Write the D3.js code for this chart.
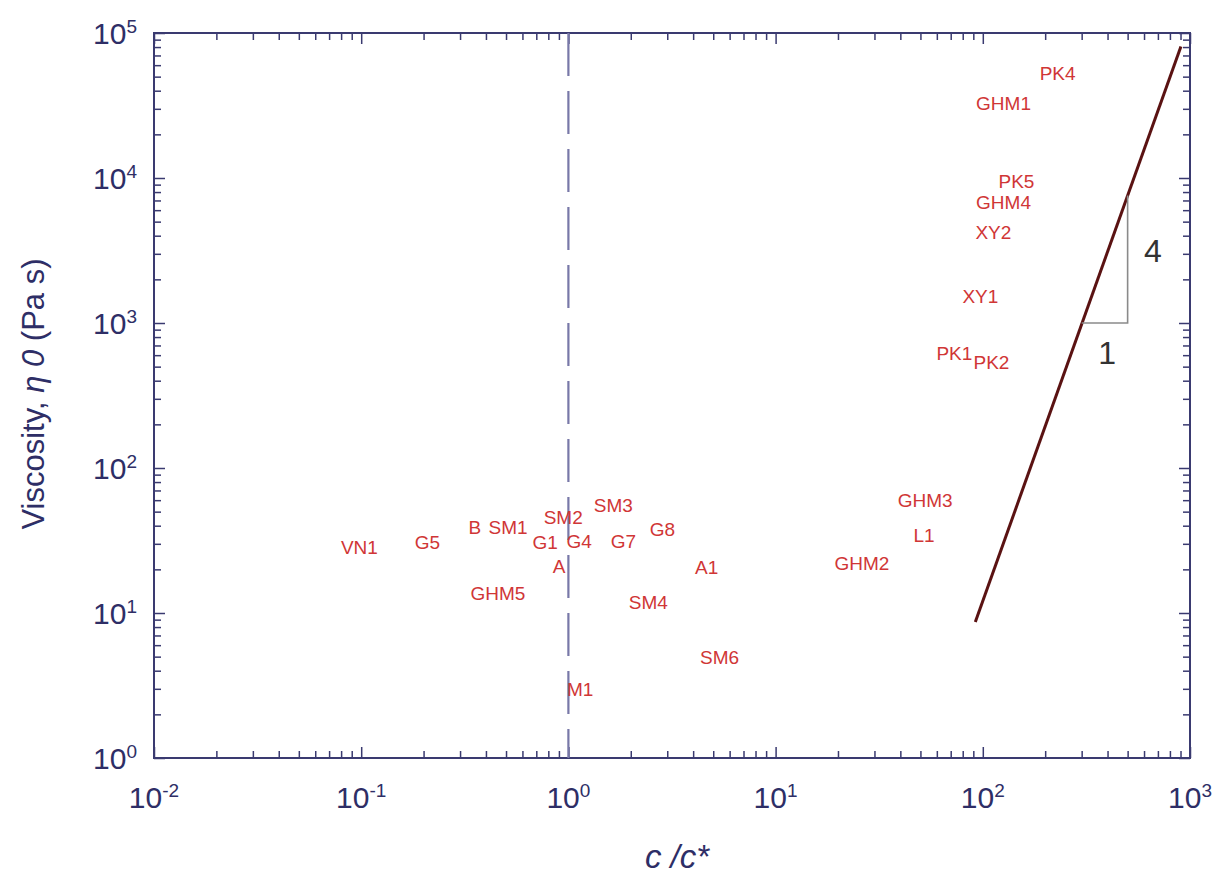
<!DOCTYPE html>
<html>
<head>
<meta charset="utf-8">
<script src="https://cdn.jsdelivr.net/npm/d3@7/dist/d3.min.js"></script>
<style>
  html, body { margin: 0; padding: 0; background: #ffffff; }
  svg { display: block; }
</style>
</head>
<body>
<script>
// ---------- data ----------
const sampleLabels = ["PK4","GHM1","PK5","GHM4","XY2","XY1","PK1","PK2","GHM3","L1","GHM2",
  "VN1","G5","B","SM1","SM2","SM3","G1","G4","G7","G8","A","A1","GHM5","SM4","SM6","M1"];
const concRatio = [229.6,125.9,145.4,125.9,112.5,97.3,72.9,110.1,52.7,52.1,26.1,
  0.098,0.209,0.354,0.512,0.944,1.648,0.773,1.127,1.841,2.844,0.902,4.645,0.457,2.432,5.37,1.14];
const viscosity = [52970,32890,9530,6830,4245,1536,621,538,60.2,34.5,22.1,
  28.5,30.9,39.2,39.2,45.9,55.6,30.9,31.4,31.4,38.0,21.1,20.8,13.7,11.9,4.97,2.99];

const slopeLineC = [92, 904];
const slopeLineEta = [8.67, 80800];
const triangleC = [300, 500, 500];
const triangleEta = [1000, 1000, 7560];
const slopeLabels = ["4", "1"];
const slopeLabelC = [662, 398];
const slopeLabelEta = [3186, 631];

const xTickExps = [-2, -1, 0, 1, 2, 3];
const yTickExps = [0, 1, 2, 3, 4, 5];
const criticalC = 1;

// ---------- layout ----------
const W = 1222, H = 875;
const L = 154, R = 1190, T = 33, B = 758;
const axisColor = "#3a3a70";
const textColor = "#2e2e66";
const labelColor = "#d03636";

const svg = d3.select("body").append("svg").attr("width", W).attr("height", H);

const x = d3.scaleLog().domain([1e-2, 1e3]).range([L, R]);
const y = d3.scaleLog().domain([1, 1e5]).range([B, T]);

// minor tick values
const minorX = [];
for (let e = -2; e < 3; e++) for (let m = 2; m <= 9; m++) minorX.push(m * Math.pow(10, e));
const minorY = [];
for (let e = 0; e < 5; e++) for (let m = 2; m <= 9; m++) minorY.push(m * Math.pow(10, e));
const majorX = xTickExps.map(e => Math.pow(10, e));
const majorY = yTickExps.map(e => Math.pow(10, e));

function styleAxis(g) {
  g.select(".domain").remove();
  g.selectAll(".tick line").attr("stroke", axisColor).attr("stroke-width", 1.5);
  g.selectAll(".tick text").remove();
}

// bottom / top axes (inward ticks)
svg.append("g").attr("transform", `translate(0,${B})`)
  .call(d3.axisBottom(x).tickValues(majorX).tickSize(-11).tickFormat("")).call(styleAxis);
svg.append("g").attr("transform", `translate(0,${B})`)
  .call(d3.axisBottom(x).tickValues(minorX).tickSize(-7).tickFormat("")).call(styleAxis);
svg.append("g").attr("transform", `translate(0,${T})`)
  .call(d3.axisTop(x).tickValues(majorX).tickSize(-11).tickFormat("")).call(styleAxis);
svg.append("g").attr("transform", `translate(0,${T})`)
  .call(d3.axisTop(x).tickValues(minorX).tickSize(-7).tickFormat("")).call(styleAxis);
// left / right axes
svg.append("g").attr("transform", `translate(${L},0)`)
  .call(d3.axisLeft(y).tickValues(majorY).tickSize(-11).tickFormat("")).call(styleAxis);
svg.append("g").attr("transform", `translate(${L},0)`)
  .call(d3.axisLeft(y).tickValues(minorY).tickSize(-7).tickFormat("")).call(styleAxis);
svg.append("g").attr("transform", `translate(${R},0)`)
  .call(d3.axisRight(y).tickValues(majorY).tickSize(-11).tickFormat("")).call(styleAxis);
svg.append("g").attr("transform", `translate(${R},0)`)
  .call(d3.axisRight(y).tickValues(minorY).tickSize(-7).tickFormat("")).call(styleAxis);

// frame
svg.append("rect").attr("x", L).attr("y", T).attr("width", R - L).attr("height", B - T)
  .attr("fill", "none").attr("stroke", axisColor).attr("stroke-width", 2);

// tick labels with superscripts
const fontFam = "Liberation Sans, Arial, Helvetica, sans-serif";
xTickExps.forEach(e => {
  const t = svg.append("text")
    .attr("x", x(Math.pow(10, e))).attr("y", B + 50)
    .attr("text-anchor", "middle").attr("font-family", fontFam)
    .attr("font-size", 30).attr("fill", textColor);
  t.append("tspan").text("10");
  t.append("tspan").attr("font-size", 19).attr("dy", -11).text(String(e));
});
yTickExps.forEach(e => {
  const t = svg.append("text")
    .attr("x", L - 17).attr("y", y(Math.pow(10, e)) + 11)
    .attr("text-anchor", "end").attr("font-family", fontFam)
    .attr("font-size", 30).attr("fill", textColor);
  t.append("tspan").text("10");
  t.append("tspan").attr("font-size", 19).attr("dy", -11).text(String(e));
});

// axis titles
svg.append("text")
  .attr("x", 677).attr("y", 868)
  .attr("text-anchor", "middle").attr("font-family", fontFam)
  .attr("font-size", 33).attr("font-style", "italic").attr("fill", textColor)
  .text("c /c*");

const yt = svg.append("text")
  .attr("transform", `translate(44,394) rotate(-90)`)
  .attr("text-anchor", "middle").attr("font-family", fontFam)
  .attr("font-size", 31).attr("fill", textColor);
yt.append("tspan").text("Viscosity, ");
yt.append("tspan").attr("font-style", "italic").text("\u03B7 0");
yt.append("tspan").text(" (Pa s)");

// dashed vertical line at c/c* = 1
svg.append("line")
  .attr("x1", x(criticalC)).attr("x2", x(criticalC))
  .attr("y1", T).attr("y2", B)
  .attr("stroke", "#7878a8").attr("stroke-width", 2.2)
  .attr("stroke-dasharray", "43,15");

// power-law line
const lineGen = d3.line().x(d => x(d[0])).y(d => y(d[1]));
svg.append("path")
  .datum(slopeLineC.map((c, i) => [c, slopeLineEta[i]]))
  .attr("d", lineGen)
  .attr("fill", "none").attr("stroke", "#5a1212").attr("stroke-width", 3);

// slope triangle
svg.append("path")
  .datum(triangleC.map((c, i) => [c, triangleEta[i]]))
  .attr("d", lineGen)
  .attr("fill", "none").attr("stroke", "#8a8a8a").attr("stroke-width", 1.6);

svg.selectAll("text.slope").data(slopeLabels).enter().append("text")
  .attr("class", "slope")
  .attr("x", (d, i) => x(slopeLabelC[i]))
  .attr("y", (d, i) => y(slopeLabelEta[i]))
  .attr("dy", "0.36em")
  .attr("text-anchor", "middle").attr("font-family", fontFam)
  .attr("font-size", 32).attr("fill", "#333333")
  .text(d => d);

// sample labels
svg.selectAll("text.sample").data(sampleLabels).enter().append("text")
  .attr("class", "sample")
  .attr("x", (d, i) => x(concRatio[i]))
  .attr("y", (d, i) => y(viscosity[i]))
  .attr("dy", "0.36em")
  .attr("text-anchor", "middle").attr("font-family", fontFam)
  .attr("font-size", 19).attr("fill", labelColor)
  .text(d => d);
</script>
</body>
</html>
